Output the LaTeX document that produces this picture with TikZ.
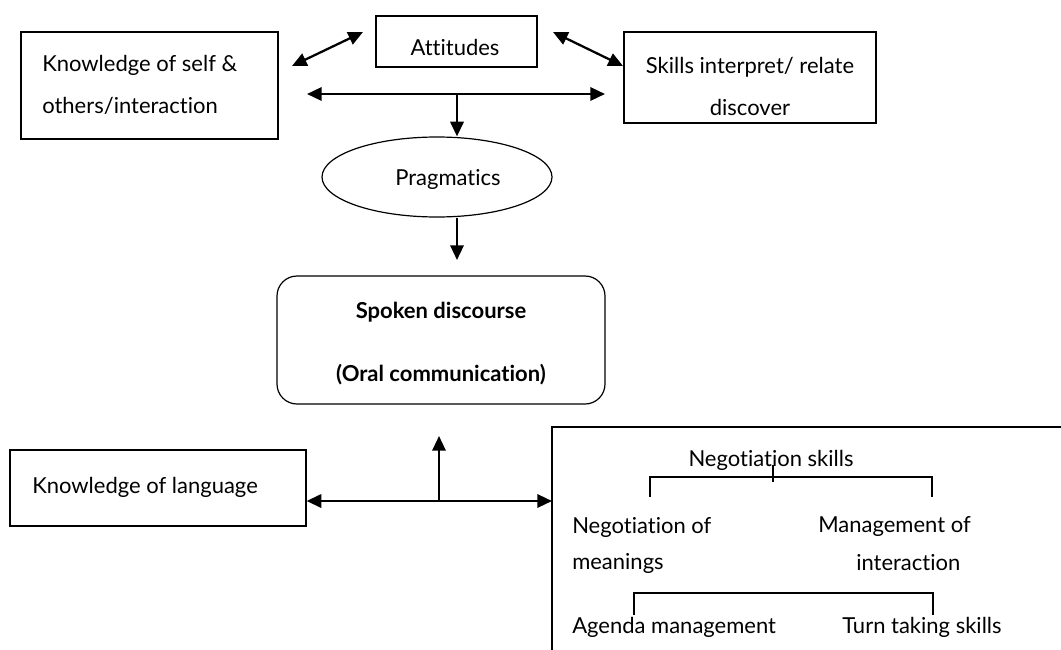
\documentclass[tikz,border=0pt]{standalone}
\usepackage{fontspec}
\setmainfont{Lato}[Ligatures={NoCommon,NoContextual}]
\usetikzlibrary{arrows.meta,shapes.geometric}
\begin{document}
\begin{tikzpicture}[x=0.75pt,y=-0.75pt,
  box/.style={draw,line width=0.9pt,inner sep=0pt},
  txt/.style={inner sep=0pt,font=\fontsize{16.5}{31.5}\selectfont},
  arr/.style={line width=1.7pt,-{Triangle[length=11pt,width=10pt]}},
  darr/.style={line width=1.7pt,{Triangle[length=11pt,width=10pt]}-{Triangle[length=11pt,width=10pt]}},
  brk/.style={line width=0.9pt}]
\useasboundingbox (0,0) rectangle (1061,650);

% boxes
\node[box,minimum width=257*0.75pt,minimum height=107*0.75pt] (kself) at (149.5,85.5) {};
\node[txt,anchor=west,align=left] (kselfT) at (42,85) {Knowledge of self \&\\others/interaction};

\node[box,minimum width=161*0.75pt,minimum height=51*0.75pt] (att) at (456.5,41.5) {};
\node[txt] (attT) at (455,47) {Attitudes};

\node[box,minimum width=252*0.75pt,minimum height=91*0.75pt] (skills) at (750,77.5) {};
\node[txt,align=center] (skillsT) at (750,86) {Skills interpret/ relate\\discover};

\node[draw,ellipse,line width=0.9pt,minimum width=230*0.75pt,minimum height=80*0.75pt,inner sep=0pt] (prag) at (437,177) {};
\node[txt] (pragT) at (448,179) {Pragmatics};

\node[box,rounded corners=15pt,minimum width=328*0.75pt,minimum height=128*0.75pt] (spoken) at (441,340) {};
\node[txt,font=\fontsize{16.5}{47.25}\selectfont\bfseries,align=center] (spokenT) at (441,344) {Spoken discourse\\(Oral communication)};

\node[box,minimum width=296*0.75pt,minimum height=76*0.75pt] (klang) at (158,488) {};
\node[txt,anchor=west] (klangT) at (32,487) {Knowledge of language};

% negotiation panel
\coordinate (neg) at (552,427);
\coordinate (negTR) at (1061,427);
\coordinate (negBL) at (552,650);
\draw[brk] (negTR) -- (neg) -- (negBL);

% connectors
\coordinate (d1a) at (292,66); \coordinate (d1b) at (363,32);
\draw[darr] (d1a) -- (d1b);
\coordinate (d2a) at (553,32); \coordinate (d2b) at (623,66);
\draw[darr] (d2a) -- (d2b);
\coordinate (hL) at (307,94); \coordinate (hR) at (605,94); \coordinate (hM) at (457,94);
\draw[darr] (hL) -- (hR);
\draw[arr] (hM) -- (hM |- prag.north);
\coordinate (pa) at (457,260);
\draw[arr] (prag.south -| hM) -- (pa);
\coordinate (bM) at (439,501); \coordinate (bU) at (439,436);
\draw[darr] (klang.east |- bM) -- (neg |- bM);
\draw[arr] (bM) -- (bU);

% negotiation content
\node[txt] (ns) at (771,460) {Negotiation skills};
\coordinate (b1l) at (650,497); \coordinate (b1r) at (932,497);
\draw[brk] (b1l) -- (650,477) -- (932,477) -- (b1r);
\draw[brk] (773,465) -- (773,482);
\node[txt,anchor=west] (nm1) at (572,527) {Negotiation of};
\node[txt,anchor=west] (nm2) at (572,563) {meanings};
\node[txt,anchor=west] (mi1) at (818,527) {Management of};
\node[txt,anchor=west] (mi2) at (856,563) {interaction};
\coordinate (b2l) at (634,615); \coordinate (b2r) at (933,615);
\draw[brk] (b2l) -- (634,593) -- (933,593) -- (b2r);
\node[txt,anchor=west] (am) at (572,627) {Agenda management};
\node[txt,anchor=west] (tt) at (842,627) {Turn taking skills};
\end{tikzpicture}
\end{document}
